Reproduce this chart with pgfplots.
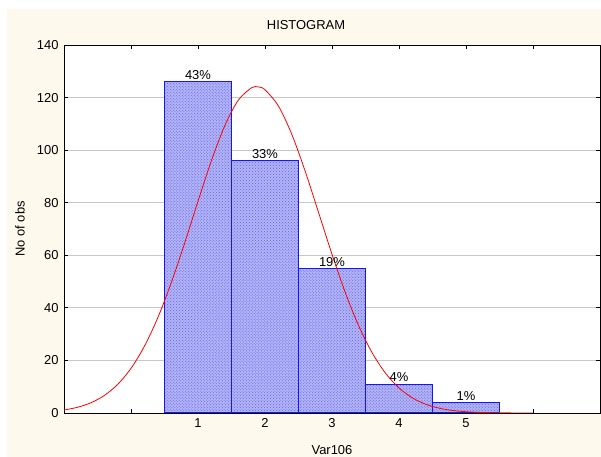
\documentclass[border=0pt]{standalone}
\usepackage{pgfplots}
\pgfplotsset{compat=1.18}
\usepackage{fontspec}
\setmainfont{Liberation Sans}
\usetikzlibrary{patterns}
\definecolor{cream}{RGB}{253,249,237}
\definecolor{barfill}{RGB}{178,180,246}
\definecolor{bardots}{RGB}{95,95,232}
\definecolor{gridgray}{RGB}{200,200,200}
\begin{document}
\begin{tikzpicture}
\path[use as bounding box] (0,0) rectangle (601bp,457bp);
\fill[cream] (7bp,0) rectangle (601bp,448bp);
\begin{axis}[
  at={(64bp,44bp)}, anchor=south west,
  scale only axis, width=536bp, height=368bp,
  xmin=-1, xmax=7, ymin=0, ymax=140,
  axis background/.style={fill=white},
  xtick={0,1,2,3,4,5,6}, xticklabels={,1,2,3,4,5,},
  ytick={0,20,40,60,80,100,120,140},
  tick align=inside, major tick length=4bp,
  xtick pos=both, ytick pos=both,
  xticklabel pos=lower, yticklabel pos=left,
  ymajorgrids, major grid style={gridgray, line width=0.9bp},
  axis line style={black, line width=0.9bp},
  tick style={black, line width=0.8bp},
  /pgf/number format/assume math mode=true,
  ticklabel style={font=\fontsize{13}{15}\selectfont},
  xticklabel style={yshift=-2bp},
  yticklabel style={xshift=-2bp},
  title={HISTOGRAM}, xlabel={Var106}, ylabel={No of obs},
  every axis title/.style={at={(0.5,1)}, anchor=center, yshift=20bp, xshift=-26bp, font=\fontsize{13}{15}\selectfont},
  every axis x label/.style={at={(0.5,0)}, anchor=center, yshift=-37bp, font=\fontsize{13}{15}\selectfont},
  every axis y label/.style={at={(0,0.5)}, xshift=-44bp, rotate=90, anchor=center, font=\fontsize{13}{15}\selectfont},
]
\addplot[ybar, bar width=1, bar shift=0pt, draw={rgb,255:red,20;green,20;blue,255}, line width=1.1bp,
  fill=barfill, postaction={pattern=crosshatch dots, pattern color=bardots},
  nodes near coords, point meta=explicit symbolic,
  every node near coord/.append style={font=\fontsize{13}{15}\selectfont, inner sep=1.5bp, anchor=south, text=black}]
  table[meta=lab] {
x y lab
1 126 43\%
2 96 33\%
3 55 19\%
4 11 4\%
5 4 1\%
};
\addplot[red, line width=0.8bp, smooth, mark=none] coordinates {
(-1.0,1.15) (-0.8,2.16) (-0.6,3.87) (-0.4,6.63) (-0.2,10.85) (0.0,16.98)
(0.2,25.38) (0.4,36.26) (0.6,49.50) (0.8,64.60) (1.0,80.55) (1.2,95.99)
(1.4,109.31) (1.6,118.96) (1.8,123.73) (1.9,124.05) (2.0,122.97) (2.2,116.80)
(2.4,106.02) (2.6,91.96) (2.8,76.23) (3.0,60.39) (3.2,45.72) (3.4,33.07)
(3.6,22.87) (3.8,15.11) (4.0,9.54) (4.2,5.76) (4.4,3.32) (4.6,1.83)
(4.8,0.96) (5.0,0.49) (5.2,0.23) (5.4,0.11) (5.6,0.05) (5.8,0.02) (6.0,0.01)
};
\end{axis}
\end{tikzpicture}
\end{document}
